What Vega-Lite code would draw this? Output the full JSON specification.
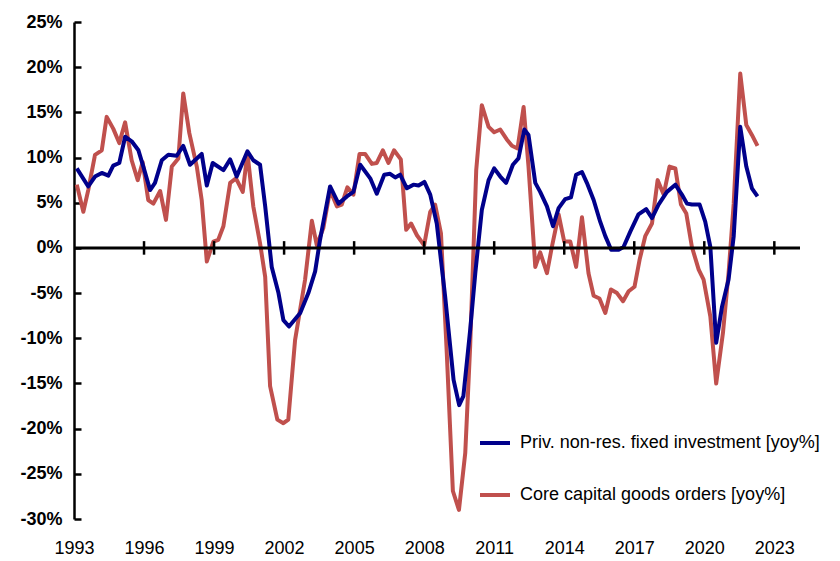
{
  "$schema": "https://vega.github.io/schema/vega-lite/v6.json",
  "width": 726,
  "height": 497,
  "autosize": {"type": "none"},
  "padding": {"left": 74, "top": 22, "right": 40, "bottom": 42},
  "background": "white",
  "config": {
    "view": {"stroke": null},
    "font": "Liberation Sans Narrow, Liberation Sans, sans-serif",
    "axis": {"labelFont": "Liberation Sans Narrow, Liberation Sans, sans-serif", "labelColor": "black", "grid": false}
  },
  "datasets": {
    "inv": [
      {"year": 1993.12, "value": 8.8}, {"year": 1993.61, "value": 6.8}, {"year": 1993.90, "value": 7.9}, {"year": 1994.19, "value": 8.3},
      {"year": 1994.47, "value": 8.0}, {"year": 1994.68, "value": 9.1}, {"year": 1994.94, "value": 9.4}, {"year": 1995.19, "value": 12.3},
      {"year": 1995.47, "value": 11.8}, {"year": 1995.76, "value": 10.8}, {"year": 1995.97, "value": 9.0}, {"year": 1996.26, "value": 6.4},
      {"year": 1996.47, "value": 7.2}, {"year": 1996.76, "value": 9.7}, {"year": 1997.04, "value": 10.3}, {"year": 1997.40, "value": 10.2},
      {"year": 1997.68, "value": 11.3}, {"year": 1997.97, "value": 9.2}, {"year": 1998.47, "value": 10.4}, {"year": 1998.69, "value": 6.9},
      {"year": 1998.94, "value": 9.4}, {"year": 1999.40, "value": 8.6}, {"year": 1999.69, "value": 9.8}, {"year": 1999.97, "value": 7.9},
      {"year": 2000.43, "value": 10.7}, {"year": 2000.68, "value": 9.7}, {"year": 2000.97, "value": 9.2}, {"year": 2001.19, "value": 4.6},
      {"year": 2001.47, "value": -2.1}, {"year": 2001.76, "value": -5.0}, {"year": 2001.97, "value": -8.0}, {"year": 2002.21, "value": -8.7},
      {"year": 2002.69, "value": -7.2}, {"year": 2003.04, "value": -5.0}, {"year": 2003.33, "value": -2.6}, {"year": 2003.54, "value": 0.9},
      {"year": 2003.97, "value": 6.8}, {"year": 2004.33, "value": 4.9}, {"year": 2004.69, "value": 5.7}, {"year": 2004.97, "value": 6.2},
      {"year": 2005.26, "value": 9.2}, {"year": 2005.69, "value": 7.7}, {"year": 2005.97, "value": 6.0}, {"year": 2006.29, "value": 8.1},
      {"year": 2006.54, "value": 8.2}, {"year": 2006.76, "value": 7.8}, {"year": 2006.97, "value": 8.1}, {"year": 2007.26, "value": 6.6},
      {"year": 2007.54, "value": 7.0}, {"year": 2007.76, "value": 6.9}, {"year": 2008.01, "value": 7.3}, {"year": 2008.26, "value": 5.9},
      {"year": 2008.54, "value": 2.7}, {"year": 2008.90, "value": -5.4}, {"year": 2009.26, "value": -14.6}, {"year": 2009.50, "value": -17.4},
      {"year": 2009.68, "value": -16.4}, {"year": 2009.97, "value": -9.1}, {"year": 2010.19, "value": -2.8}, {"year": 2010.47, "value": 4.2},
      {"year": 2010.76, "value": 7.5}, {"year": 2011.00, "value": 8.8}, {"year": 2011.26, "value": 7.9}, {"year": 2011.51, "value": 7.2},
      {"year": 2011.80, "value": 9.2}, {"year": 2012.04, "value": 9.9}, {"year": 2012.29, "value": 13.1}, {"year": 2012.47, "value": 12.5},
      {"year": 2012.76, "value": 7.2}, {"year": 2012.97, "value": 6.2}, {"year": 2013.26, "value": 4.6}, {"year": 2013.52, "value": 2.4},
      {"year": 2013.76, "value": 4.4}, {"year": 2014.04, "value": 5.4}, {"year": 2014.29, "value": 5.6}, {"year": 2014.51, "value": 8.1},
      {"year": 2014.76, "value": 8.4}, {"year": 2014.97, "value": 7.2}, {"year": 2015.26, "value": 5.3}, {"year": 2015.54, "value": 2.9},
      {"year": 2015.76, "value": 1.3}, {"year": 2016.01, "value": -0.2}, {"year": 2016.33, "value": -0.2}, {"year": 2016.54, "value": 0.1},
      {"year": 2016.83, "value": 1.8}, {"year": 2017.18, "value": 3.7}, {"year": 2017.51, "value": 4.3}, {"year": 2017.76, "value": 3.3},
      {"year": 2018.04, "value": 4.8}, {"year": 2018.40, "value": 6.2}, {"year": 2018.76, "value": 7.0}, {"year": 2019.04, "value": 5.9},
      {"year": 2019.26, "value": 4.9}, {"year": 2019.47, "value": 4.8}, {"year": 2019.80, "value": 4.8}, {"year": 2020.04, "value": 2.9},
      {"year": 2020.26, "value": 0.1}, {"year": 2020.51, "value": -10.5}, {"year": 2020.76, "value": -6.5}, {"year": 2021.04, "value": -3.5},
      {"year": 2021.26, "value": 1.3}, {"year": 2021.54, "value": 13.4}, {"year": 2021.80, "value": 9.0}, {"year": 2022.04, "value": 6.6},
      {"year": 2022.28, "value": 5.7}
    ],
    "orders": [
      {"year": 1993.12, "value": 7.0}, {"year": 1993.40, "value": 4.0}, {"year": 1993.61, "value": 6.4}, {"year": 1993.90, "value": 10.3},
      {"year": 1994.19, "value": 10.8}, {"year": 1994.40, "value": 14.5}, {"year": 1994.68, "value": 13.2}, {"year": 1994.94, "value": 11.6},
      {"year": 1995.19, "value": 13.9}, {"year": 1995.47, "value": 9.7}, {"year": 1995.73, "value": 7.5}, {"year": 1995.94, "value": 9.5},
      {"year": 1996.18, "value": 5.3}, {"year": 1996.40, "value": 4.9}, {"year": 1996.69, "value": 6.3}, {"year": 1996.94, "value": 3.1},
      {"year": 1997.19, "value": 9.0}, {"year": 1997.47, "value": 9.9}, {"year": 1997.68, "value": 17.1}, {"year": 1997.94, "value": 12.7},
      {"year": 1998.26, "value": 9.0}, {"year": 1998.47, "value": 5.3}, {"year": 1998.69, "value": -1.5}, {"year": 1998.97, "value": 0.7},
      {"year": 1999.18, "value": 0.9}, {"year": 1999.40, "value": 2.4}, {"year": 1999.69, "value": 7.2}, {"year": 1999.94, "value": 7.7},
      {"year": 2000.23, "value": 6.2}, {"year": 2000.43, "value": 10.5}, {"year": 2000.68, "value": 4.6}, {"year": 2000.97, "value": 0.5},
      {"year": 2001.19, "value": -3.2}, {"year": 2001.40, "value": -15.3}, {"year": 2001.71, "value": -19.0}, {"year": 2001.97, "value": -19.4},
      {"year": 2002.18, "value": -19.0}, {"year": 2002.47, "value": -10.2}, {"year": 2002.90, "value": -3.5}, {"year": 2003.19, "value": 3.0},
      {"year": 2003.40, "value": 0.3}, {"year": 2003.68, "value": 2.2}, {"year": 2003.97, "value": 6.4}, {"year": 2004.26, "value": 4.6},
      {"year": 2004.47, "value": 4.8}, {"year": 2004.71, "value": 6.7}, {"year": 2004.97, "value": 5.9}, {"year": 2005.23, "value": 10.4},
      {"year": 2005.47, "value": 10.4}, {"year": 2005.76, "value": 9.3}, {"year": 2005.97, "value": 9.4}, {"year": 2006.23, "value": 10.8},
      {"year": 2006.47, "value": 9.4}, {"year": 2006.71, "value": 10.8}, {"year": 2007.00, "value": 9.8}, {"year": 2007.23, "value": 2.0},
      {"year": 2007.44, "value": 2.7}, {"year": 2007.69, "value": 1.4}, {"year": 2008.00, "value": 0.3}, {"year": 2008.26, "value": 4.0},
      {"year": 2008.47, "value": 4.8}, {"year": 2008.72, "value": 1.6}, {"year": 2008.97, "value": -11.7}, {"year": 2009.23, "value": -26.9},
      {"year": 2009.49, "value": -29.0}, {"year": 2009.76, "value": -22.7}, {"year": 2009.97, "value": -10.9}, {"year": 2010.23, "value": 8.6},
      {"year": 2010.47, "value": 15.8}, {"year": 2010.76, "value": 13.4}, {"year": 2011.00, "value": 12.8}, {"year": 2011.26, "value": 13.1},
      {"year": 2011.54, "value": 12.0}, {"year": 2011.76, "value": 11.3}, {"year": 2012.00, "value": 11.0}, {"year": 2012.26, "value": 15.6},
      {"year": 2012.47, "value": 9.0}, {"year": 2012.76, "value": -2.1}, {"year": 2012.97, "value": -0.5}, {"year": 2013.26, "value": -2.8},
      {"year": 2013.47, "value": 0.1}, {"year": 2013.76, "value": 3.7}, {"year": 2014.00, "value": 0.7}, {"year": 2014.26, "value": 0.7},
      {"year": 2014.51, "value": -2.1}, {"year": 2014.76, "value": 3.4}, {"year": 2015.04, "value": -2.8}, {"year": 2015.26, "value": -5.3},
      {"year": 2015.51, "value": -5.6}, {"year": 2015.76, "value": -7.2}, {"year": 2016.00, "value": -4.6}, {"year": 2016.26, "value": -5.0},
      {"year": 2016.52, "value": -5.9}, {"year": 2016.76, "value": -4.8}, {"year": 2017.01, "value": -4.3}, {"year": 2017.23, "value": -1.3},
      {"year": 2017.47, "value": 1.3}, {"year": 2017.76, "value": 2.7}, {"year": 2018.00, "value": 7.5}, {"year": 2018.26, "value": 5.9},
      {"year": 2018.51, "value": 9.0}, {"year": 2018.76, "value": 8.8}, {"year": 2019.00, "value": 4.8}, {"year": 2019.23, "value": 3.8},
      {"year": 2019.47, "value": 0.1}, {"year": 2019.76, "value": -2.4}, {"year": 2019.97, "value": -3.5}, {"year": 2020.26, "value": -7.6},
      {"year": 2020.51, "value": -15.0}, {"year": 2020.80, "value": -9.4}, {"year": 2021.04, "value": -2.8}, {"year": 2021.26, "value": 4.9},
      {"year": 2021.54, "value": 19.3}, {"year": 2021.80, "value": 13.6}, {"year": 2022.04, "value": 12.5}, {"year": 2022.28, "value": 11.3}
    ],
    "ticks": [
      {"year": 1996}, {"year": 1999}, {"year": 2002}, {"year": 2005}, {"year": 2008},
      {"year": 2011}, {"year": 2014}, {"year": 2017}, {"year": 2020}, {"year": 2023}
    ],
    "zero": [{"value": 0}]
  },
  "layer": [
    {
      "data": {"name": "orders"},
      "mark": {"type": "line", "strokeWidth": 4, "strokeJoin": "round"},
      "encoding": {
        "x": {
          "field": "year", "type": "quantitative",
          "scale": {"domain": [1993, 2024.1], "nice": false, "zero": false},
          "axis": {
            "title": null, "domain": false, "ticks": false,
            "values": [1993, 1996, 1999, 2002, 2005, 2008, 2011, 2014, 2017, 2020, 2023],
            "format": "d", "labelFontSize": 18, "labelPadding": 20, "labelFlush": false
          }
        },
        "y": {
          "field": "value", "type": "quantitative",
          "scale": {"domain": [-30, 25], "nice": false, "zero": false},
          "axis": {
            "title": null, "values": [-30, -25, -20, -15, -10, -5, 0, 5, 10, 15, 20, 25],
            "labelExpr": "datum.value + '%'", "labelFontSize": 18, "labelFontWeight": "bold",
            "labelFont": "Liberation Sans, sans-serif",
            "domainColor": "black", "domainWidth": 2.5, "tickColor": "black", "tickWidth": 2.5,
            "tickSize": -7, "labelPadding": 19
          }
        },
        "color": {
          "datum": "Core capital goods orders [yoy%]",
          "scale": {
            "domain": ["Priv. non-res. fixed investment [yoy%]", "Core capital goods orders [yoy%]"],
            "range": ["#00008B", "#C0504D"]
          },
          "legend": {
            "title": null, "orient": "none", "legendX": 404, "legendY": 404,
            "symbolType": "stroke", "symbolSize": 900, "symbolStrokeWidth": 4,
            "labelFontSize": 18, "labelColor": "black", "labelOffset": 8,
            "rowPadding": 26, "labelLimit": 400
          }
        }
      }
    },
    {
      "data": {"name": "inv"},
      "mark": {"type": "line", "strokeWidth": 4, "strokeJoin": "round"},
      "encoding": {
        "x": {"field": "year", "type": "quantitative"},
        "y": {"field": "value", "type": "quantitative"},
        "color": {"datum": "Priv. non-res. fixed investment [yoy%]"}
      }
    },
    {
      "data": {"name": "zero"},
      "mark": {"type": "rule", "strokeWidth": 3, "color": "black"},
      "encoding": {"y": {"field": "value", "type": "quantitative"}}
    },
    {
      "data": {"name": "ticks"},
      "mark": {"type": "rule", "strokeWidth": 2.5, "color": "black"},
      "encoding": {
        "x": {"field": "year", "type": "quantitative"},
        "y": {"datum": -0.75, "type": "quantitative"},
        "y2": {"datum": 0.75}
      }
    }
  ]
}
